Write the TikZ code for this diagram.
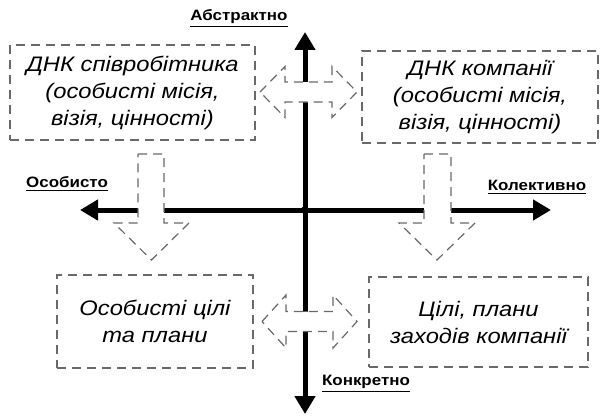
\documentclass[tikz,border=0pt]{standalone}
\usepackage{fontspec}
\setmainfont{Liberation Sans}
\newfontfamily\boxfont[FakeStretch=1.13]{Liberation Sans}
\newfontfamily\axisfont[FakeStretch=1.13]{Liberation Sans}
\usetikzlibrary{arrows.meta}
\definecolor{dashgray}{RGB}{105,105,105}

\begin{document}
\begin{tikzpicture}[x=0.5pt,y=-0.5pt,>={Triangle[length=9pt,width=10pt]},
  axis line/.style={line width=2.5pt},
  box node/.style={draw=dashgray,line width=0.6pt,dash pattern=on 4.5pt off 3pt,
    align=center,font=\boxfont\itshape\fontsize{10.5}{13.5}\selectfont},
  axis label/.style={font=\axisfont\bfseries\fontsize{7.5}{9}\selectfont},
  block arrow/.style={draw=dashgray,fill=white,line width=0.6pt,dash pattern=on 4.5pt off 3pt}]
  \useasboundingbox (0,0) rectangle (603,417);
  % axes
  \coordinate (o) at (305,210);
  \coordinate (top) at (305,32);
  \coordinate (bottom) at (305,414);
  \coordinate (west) at (80,210);
  \coordinate (east) at (551,210);
  \draw[axis line,->] (o) -- (top);
  \draw[axis line,->] (o) -- (bottom);
  \draw[axis line,->] (o) -- (west);
  \draw[axis line,->] (o) -- (east);
  \fill (o) circle (2pt);

  \node[axis label] (abstr) at (239,19) {\underline{Абстрактно}};
  \node[axis label] (pers) at (67,184) {\underline{Особисто}};
  \node[axis label] (coll) at (537,187) {\underline{Колективно}};
  \node[axis label] (concr) at (366,384) {\underline{Конкретно}};

  % boxes
  \node[box node,minimum width=122.5pt,minimum height=47.5pt] (empdna) at (132.5,92.5)
    {ДНК співробітника\\(особисті місія,\\візія, цінності)};
  \node[box node,minimum width=118pt,minimum height=46pt] (compdna) at (480,97)
    {ДНК компанії\\(особисті місія,\\візія, цінності)};
  \node[box node,minimum width=98pt,minimum height=46.5pt] (persgoals) at (155,321.5)
    {Особисті цілі\\та плани};
  \node[box node,minimum width=109.5pt,minimum height=45pt] (compgoals) at (478.5,322)
    {Цілі, плани\\заходів компанії};

  % block arrows
  \draw[block arrow] (260,92) -- (285,66.5) -- (285,82) -- (332,82) -- (332,66.5)
    -- (357,92) -- (332,117.5) -- (332,102) -- (285,102) -- (285,117.5) -- cycle;
  \draw[block arrow] (262,321.5) -- (286,295) -- (286,311.5) -- (333,311.5) -- (333,295)
    -- (357,321.5) -- (333,348) -- (333,331.5) -- (286,331.5) -- (286,348) -- cycle;
  \draw[block arrow] (138,154) -- (164,154) -- (164,223) -- (189,223) -- (151.5,260)
    -- (114,223) -- (138,223) -- cycle;
  \draw[block arrow] (424,154) -- (451,154) -- (451,223) -- (475,223) -- (437,260)
    -- (399,223) -- (424,223) -- cycle;
\end{tikzpicture}
\end{document}
